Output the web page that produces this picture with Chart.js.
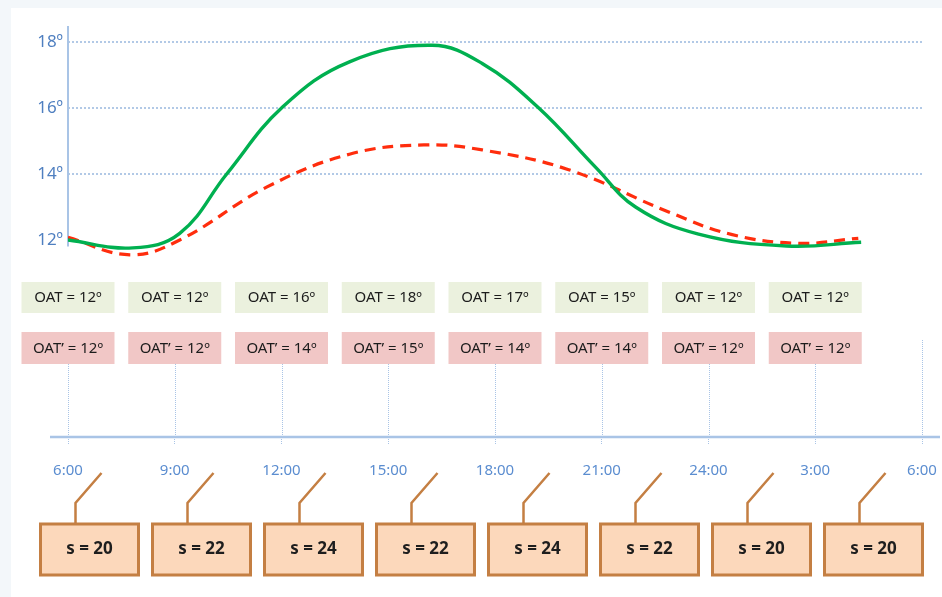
<!DOCTYPE html>
<html>
<head>
<meta charset="utf-8">
<script src="https://cdn.jsdelivr.net/npm/chart.js@4.4.0/dist/chart.umd.min.js"></script>
<style>
  html, body { margin: 0; padding: 0; background: #f3f7fa; }
  #panel { position: absolute; left: 11px; top: 8px; right: 0; bottom: 0; background: #fff; }
  #wrap { position: absolute; left: 0; top: 0; width: 942px; height: 597px; }
</style>
</head>
<body>
<div id="panel"></div>
<div id="wrap"><canvas id="oatChart" width="942" height="597"></canvas></div>
<script>
// time axis (hours from 6:00, 30 = 6:00 next day)
const hourTicks = [6, 9, 12, 15, 18, 21, 24, 27, 30];
const tickLabels = ['6:00', '9:00', '12:00', '15:00', '18:00', '21:00', '24:00', '3:00', '6:00'];
const tempTicks = [12, 14, 16, 18];

// boxes per 3h slot
const slotHours = [6, 9, 12, 15, 18, 21, 24, 27];
const oatValues = [12, 12, 16, 18, 17, 15, 12, 12];
const oatPrimeValues = [12, 12, 14, 15, 14, 14, 12, 12];
const sValues = [20, 22, 24, 22, 24, 22, 20, 20];

// curves
const oatHours = [6.0, 7.82, 9.14, 10.46, 12.03, 13.91, 16.23, 17.64, 19.23, 20.83, 21.95, 23.72, 26.19, 28.29];
const oatTemps = [12.0, 11.76, 12.2, 14.0, 16.03, 17.4, 17.9, 17.35, 16.0, 14.2, 13.0, 12.18, 11.82, 11.93];
const oatPrimeHours = [6.0, 7.74, 9.14, 11.58, 13.91, 16.0, 17.64, 20.07, 22.88, 24.64, 26.52, 28.21];
const oatPrimeTemps = [12.08, 11.55, 12.0, 13.6, 14.6, 14.88, 14.73, 14.13, 12.85, 12.17, 11.9, 12.05];

const axisBlue = '#a9c4e6';
const fontFamily = '"Noto Sans", sans-serif';

const diagramPlugin = {
  id: 'diagram',
  beforeDatasetsDraw(chart) {
    const { ctx, chartArea, scales: { x, y } } = chart;
    ctx.save();
    ctx.strokeStyle = axisBlue;
    // y axis line, only over the temperature part
    ctx.lineWidth = 2;
    ctx.beginPath();
    ctx.moveTo(chartArea.left, chartArea.top);
    ctx.lineTo(chartArea.left, y.getPixelForValue(11.8));
    ctx.stroke();
    // dotted time lines
    ctx.lineWidth = 1;
    ctx.setLineDash([1, 1]);
    hourTicks.forEach(h => {
      const px = Math.round(x.getPixelForValue(h)) + 0.5;
      ctx.beginPath();
      ctx.moveTo(px, 340);
      ctx.lineTo(px, chartArea.bottom);
      ctx.stroke();
    });
    ctx.setLineDash([]);
    // time axis
    ctx.lineWidth = 2.5;
    ctx.beginPath();
    ctx.moveTo(chartArea.left - 18, chartArea.bottom);
    ctx.lineTo(chartArea.right + 18, chartArea.bottom);
    ctx.stroke();
    ctx.restore();
  },
  afterDraw(chart) {
    const { ctx, scales: { x } } = chart;
    ctx.save();
    ctx.textAlign = 'center';
    ctx.textBaseline = 'middle';

    // OAT / OAT' labels
    ctx.font = '15px ' + fontFamily;
    slotHours.forEach((h, i) => {
      const cx = x.getPixelForValue(h);
      ctx.fillStyle = '#ebf1de';
      ctx.fillRect(cx - 46.5, 282, 93, 31);
      ctx.fillStyle = '#f1c7c6';
      ctx.fillRect(cx - 46.5, 332, 93, 32);
      ctx.fillStyle = '#1c1c1c';
      ctx.fillText('OAT = ' + oatValues[i] + 'º', cx, 298);
      ctx.fillText('OAT’ = ' + oatPrimeValues[i] + 'º', cx, 348.5);
    });

    // sensor boxes
    const x0 = x.getPixelForValue(hourTicks[0]) - 27.5;
    ctx.font = 'bold 17px ' + fontFamily;
    sValues.forEach((s, i) => {
      const left = x0 + i * 112;
      const top = 524, w = 98, hgt = 51;
      ctx.strokeStyle = '#c47f43';
      ctx.lineWidth = 2.5;
      // connector
      ctx.beginPath();
      ctx.moveTo(left + 35, top);
      ctx.lineTo(left + 35, 503);
      ctx.lineTo(left + 61, 473);
      ctx.stroke();
      // box
      ctx.fillStyle = '#fcd8bb';
      ctx.lineWidth = 3;
      ctx.fillRect(left, top, w, hgt);
      ctx.strokeRect(left, top, w, hgt);
      ctx.fillStyle = '#1e1e1e';
      ctx.fillText('s = ' + s, left + w / 2, top + hgt / 2);
    });
    ctx.restore();
  }
};

const ctx = document.getElementById('oatChart').getContext('2d');
new Chart(ctx, {
  type: 'line',
  data: {
    datasets: [
      {
        label: 'OAT',
        data: oatHours.map((h, i) => ({ x: h, y: oatTemps[i] })),
        borderColor: '#00b050',
        borderWidth: 3.4,
        pointRadius: 0,
        tension: 0.4,
        fill: false
      },
      {
        label: 'OAT’',
        data: oatPrimeHours.map((h, i) => ({ x: h, y: oatPrimeTemps[i] })),
        borderColor: '#ff2d0d',
        borderWidth: 3.2,
        borderDash: [11, 7],
        pointRadius: 0,
        tension: 0.4,
        fill: false
      }
    ]
  },
  options: {
    responsive: false,
    animation: false,
    layout: { padding: { top: 26, right: 20, left: 0, bottom: 0 } },
    plugins: {
      legend: { display: false },
      tooltip: { enabled: false }
    },
    scales: {
      x: {
        type: 'linear',
        min: 6,
        max: 30,
        afterBuildTicks: s => { s.ticks = hourTicks.map(v => ({ value: v })); },
        afterFit: s => { s.height = 160; s.paddingLeft = 0; s.paddingRight = 0; },
        ticks: {
          callback: (v, i) => tickLabels[i],
          color: '#5b8dd0',
          font: { family: fontFamily, size: 15 },
          padding: 17,
          maxRotation: 0,
          autoSkip: false
        },
        grid: {
          drawOnChartArea: false,
          drawTicks: true,
          tickLength: 8,
          tickColor: axisBlue,
          tickWidth: 1,
          tickBorderDash: [1, 1]
        },
        border: { display: false }
      },
      y: {
        min: 6.03,
        max: 18.485,
        afterBuildTicks: s => { s.ticks = tempTicks.map(v => ({ value: v })); },
        afterFit: s => { s.width = 68; },
        ticks: {
          callback: v => v + 'º',
          color: '#4f7fc0',
          font: { family: fontFamily, size: 17 },
          padding: 5
        },
        grid: {
          drawTicks: false,
          lineWidth: 2,
          color: c => (c.tick && c.tick.value > 12) ? '#b2c9e6' : 'rgba(0,0,0,0)'
        },
        border: { display: false, dash: [2, 2] }
      }
    }
  },
  plugins: [diagramPlugin]
});
</script>
</body>
</html>
